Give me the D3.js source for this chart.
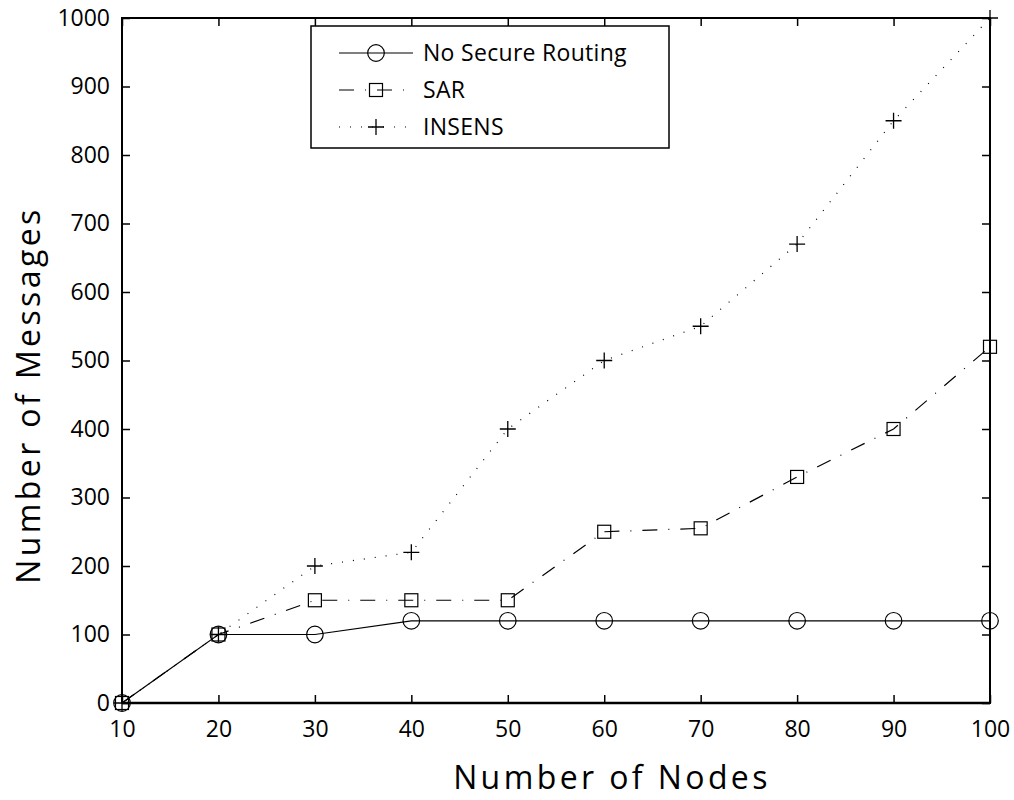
<!DOCTYPE html>
<meta charset="utf-8">
<style>

body {
  margin: 0;
  background: #fff;
}

text {
  font-family: "Open Sans", sans-serif;
  fill: #000;
}

.tick text {
  font-size: 23px;
}

.title {
  font-size: 32px;
  letter-spacing: 3.4px;
}

</style>
<body>
<script src="https://cdnjs.cloudflare.com/ajax/libs/d3/7.8.5/d3.min.js"></script>
<script>

var nodes = [10, 20, 30, 40, 50, 60, 70, 80, 90, 100];
var noSecure = [0, 100, 100, 120, 120, 120, 120, 120, 120, 120];
var sar = [0, 100, 150, 150, 150, 250, 255, 330, 400, 520];
var insens = [0, 100, 200, 220, 400, 500, 550, 670, 850, 1000];
var yTicks = [0, 100, 200, 300, 400, 500, 600, 700, 800, 900, 1000];

var series = [
  {name: "No Secure Routing", values: noSecure, dash: null, marker: "circle"},
  {name: "SAR", values: sar, dash: "15,11,1,11", marker: "square"},
  {name: "INSENS", values: insens, dash: "1,10", marker: "plus"}
];

var width = 1014,
    height = 800,
    plotL = 122, plotR = 990, plotT = 18, plotB = 703;

var svg = d3.select("body").append("svg")
    .attr("width", width)
    .attr("height", height);

var x = d3.scaleLinear().domain([10, 100]).range([plotL, plotR]);
var y = d3.scaleLinear().domain([0, 1000]).range([plotB, plotT]);

// axes, ticks pointing inward
svg.append("g")
    .attr("transform", "translate(0," + plotB + ")")
    .call(d3.axisBottom(x).tickValues(nodes).tickSize(-8).tickPadding(18).tickFormat(d3.format("d")))
    .call(function(g) { g.select(".domain").remove(); });

svg.append("g")
    .attr("transform", "translate(" + plotL + ",0)")
    .call(d3.axisLeft(y).tickValues(yTicks).tickSize(-8).tickPadding(12).tickFormat(d3.format("d")))
    .call(function(g) { g.select(".domain").remove(); });

svg.append("g")
    .attr("transform", "translate(0," + plotT + ")")
    .call(d3.axisTop(x).tickValues(nodes).tickSize(-8).tickFormat(""))
    .call(function(g) { g.select(".domain").remove(); });

svg.append("g")
    .attr("transform", "translate(" + plotR + ",0)")
    .call(d3.axisRight(y).tickValues(yTicks).tickSize(-8).tickFormat(""))
    .call(function(g) { g.select(".domain").remove(); });

svg.selectAll(".tick line").attr("stroke", "#000").attr("stroke-width", 1.5);

svg.append("rect")
    .attr("x", plotL)
    .attr("y", plotT)
    .attr("width", plotR - plotL)
    .attr("height", plotB - plotT)
    .attr("fill", "none")
    .attr("stroke", "#000")
    .attr("stroke-width", 2);

svg.append("line")
    .attr("x1", plotL).attr("x2", plotR)
    .attr("y1", plotB).attr("y2", plotB)
    .attr("stroke", "#000")
    .attr("stroke-width", 2.6);

function drawMarker(g, type, cx, cy) {
  if (type == "circle") {
    g.append("circle").attr("cx", cx).attr("cy", cy).attr("r", 8.3)
        .attr("fill", "none").attr("stroke", "#000").attr("stroke-width", 1.2);
  } else if (type == "square") {
    g.append("rect").attr("x", cx - 6.5).attr("y", cy - 6.5)
        .attr("width", 13).attr("height", 13)
        .attr("fill", "none").attr("stroke", "#000").attr("stroke-width", 1.2);
  } else {
    g.append("path").attr("d", "M" + (cx - 8) + "," + cy + "H" + (cx + 8) + "M" + cx + "," + (cy - 8) + "V" + (cy + 8))
        .attr("stroke", "#000").attr("stroke-width", 1.3);
  }
}

var line = d3.line()
    .x(function(d, i) { return x(nodes[i]); })
    .y(function(d) { return y(d); });

series.forEach(function(s) {
  var g = svg.append("g");
  g.append("path")
      .attr("d", line(s.values))
      .attr("fill", "none")
      .attr("stroke", "#000")
      .attr("stroke-width", 1.2)
      .attr("stroke-dasharray", s.dash);
  s.values.forEach(function(v, i) {
    drawMarker(g, s.marker, x(nodes[i]), y(v));
  });
});

// legend
var legend = svg.append("g");
legend.append("rect")
    .attr("x", 311).attr("y", 26)
    .attr("width", 358).attr("height", 122)
    .attr("fill", "#fff")
    .attr("stroke", "#000")
    .attr("stroke-width", 1.5);

series.forEach(function(s, i) {
  var ly = 53 + i * 37;
  legend.append("line")
      .attr("x1", 339).attr("x2", 413)
      .attr("y1", ly).attr("y2", ly)
      .attr("stroke", "#000")
      .attr("stroke-width", 1.2)
      .attr("stroke-dasharray", s.dash);
  drawMarker(legend, s.marker, 376, ly);
  legend.append("text")
      .attr("x", 423)
      .attr("y", ly)
      .attr("dy", "0.35em")
      .style("font-size", "23px")
      .style("letter-spacing", "0.3px")
      .text(s.name);
});

svg.append("text")
    .attr("class", "title")
    .attr("x", 612)
    .attr("y", 789)
    .attr("text-anchor", "middle")
    .text("Number of Nodes");

svg.append("text")
    .attr("class", "title")
    .attr("transform", "translate(40,395) rotate(-90)")
    .attr("text-anchor", "middle")
    .text("Number of Messages");

</script>
